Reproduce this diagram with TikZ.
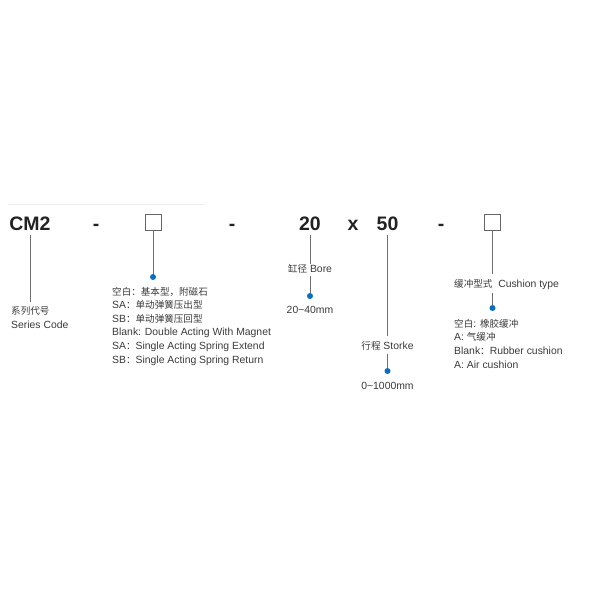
\documentclass[tikz,border=0pt]{standalone}
\usepackage{fontspec}
\setmainfont{Liberation Sans}
\newfontfamily\cjk{Noto Sans CJK SC}[Scale=0.92]
\newcommand{\zh}[1]{{\cjk #1}}
\usetikzlibrary{positioning}
\definecolor{ink}{HTML}{222222}
\definecolor{txt}{HTML}{3A3A3A}
\definecolor{leadgray}{HTML}{6E6E6E}
\definecolor{boxgray}{HTML}{666666}
\definecolor{pinblue}{HTML}{0A6FC2}
\definecolor{hairline}{HTML}{EDEDED}

\begin{document}
\begin{tikzpicture}[x=1pt, y=-1pt,
  code/.style={font=\bfseries\fontsize{19.5}{20}\selectfont, text=ink, inner sep=0pt, anchor=base},
  slot/.style={draw=boxgray, line width=0.9pt, minimum size=16pt, inner sep=0pt},
  note/.style={font=\fontsize{10.4}{13.6}\selectfont, text=txt, inner sep=0pt, align=left},
  dotpin/.style={circle, fill=pinblue, minimum size=6pt, inner sep=0pt},
  lead/.style={draw=leadgray, line width=0.7pt}]
  \useasboundingbox (0,0) rectangle (600,600);
  \draw[hairline, line width=1pt] (8,204) -- (205,204);
  % order code
  \node[code] (cm)     at (30,230)    {CM2};
  \node[code] (d1)     at (96,230)    {-};
  \node[slot] (sq1)    at (153,222)   {};
  \node[code] (d2)     at (232,230)   {-};
  \node[code] (bore)   at (310,230)   {20};
  \node[code] (times)  at (353,230)   {x};
  \node[code] (stroke) at (387.5,230) {50};
  \node[code] (d3)     at (441,230)   {-};
  \node[slot] (sq2)    at (492.5,222) {};
  % explanations (multi-line: base = last line)
  \node[note, anchor=base west] (series) at (11,328) {\zh{系列代号}\\Series Code};
  \node[dotpin] (p1) at (153,277) {};
  \node[note, anchor=base west] (type) at (112,363)
    {\zh{空白：基本型，附磁石}\\SA\zh{：单动弹簧压出型}\\SB\zh{：单动弹簧压回型}\\Blank: Double Acting With Magnet\\SA\zh{：}Single Acting Spring Extend\\SB\zh{：}Single Acting Spring Return};
  \node[note, anchor=base] (borelbl) at (310,272) {\zh{缸径} Bore};
  \node[dotpin] (p2) at (310,296) {};
  \node[note, anchor=base] (borerng) at (310,313) {20\textasciitilde40mm};
  \node[note, anchor=base] (strlbl) at (387.5,349) {\zh{行程} Storke};
  \node[dotpin] (p3) at (387.5,371) {};
  \node[note, anchor=base] (strrng) at (387.5,389.5) {0\textasciitilde1000mm};
  \node[note, anchor=base west] (cushlbl) at (454,287) {\zh{缓冲型式}\ \ Cushion type};
  \node[dotpin] (p4) at (492.5,308) {};
  \node[note, anchor=base west] (cush) at (454,368)
    {\zh{空白}: \zh{橡胶缓冲}\\A: \zh{气缓冲}\\Blank\zh{：}Rubber cushion\\A: Air cushion};
  % leaders
  \coordinate (cmend) at (30,302);
  \draw[lead, shorten <=5pt] (cm.south) -- (cmend);
  \draw[lead] (sq1) -- (p1);
  \draw[lead, shorten <=5pt] (bore.south) -- (borelbl.north);
  \draw[lead, shorten <=3pt] (borelbl.south) -- (p2);
  \draw[lead, shorten <=5pt, shorten >=5pt] (stroke.south) -- (strlbl.north);
  \draw[lead, shorten <=4pt] (strlbl.south) -- (p3);
  \draw[lead, shorten >=5pt] (sq2.south) -- (sq2.south |- cushlbl.north);
  \draw[lead, shorten <=3.5pt] (sq2.south |- cushlbl.south) -- (p4);
\end{tikzpicture}
\end{document}
